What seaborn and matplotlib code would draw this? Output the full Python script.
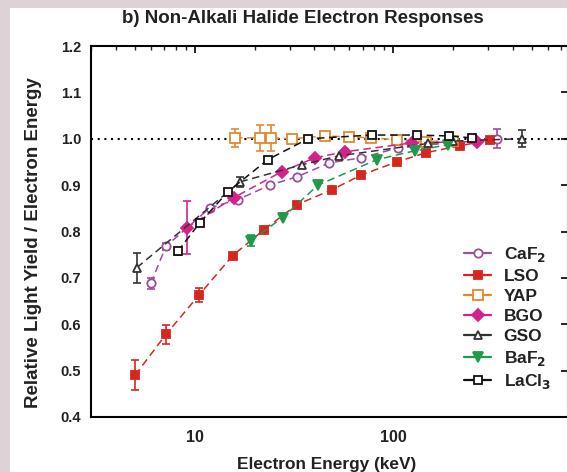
import numpy as np
import pandas as pd
import seaborn as sns
import matplotlib
matplotlib.use("Agg")
import matplotlib.pyplot as plt
from matplotlib.lines import Line2D
from matplotlib.patches import Rectangle
from matplotlib.ticker import FixedLocator, LogLocator, NullFormatter, FuncFormatter

# ---------------- data ----------------
series_names = ["CaF$_\\mathbf{2}$", "LSO", "YAP", "BGO", "GSO", "BaF$_\\mathbf{2}$", "LaCl$_\\mathbf{3}$"]

caf2_e = [6.0, 7.15, 11.9, 16.5, 23.9, 32.7, 47.6, 69, 105, 200, 331]
caf2_y = [0.688, 0.768, 0.851, 0.869, 0.900, 0.918, 0.948, 0.959, 0.980, 0.992, 1.000]
caf2_err = [0.012, 0.008, 0.0, 0.0, 0.0, 0.0, 0.0, 0.0, 0.0, 0.0, 0.02]

lso_e = [5.0, 7.15, 10.5, 15.5, 22.3, 32.7, 49, 69, 104, 146, 216, 306]
lso_y = [0.490, 0.578, 0.663, 0.748, 0.804, 0.858, 0.890, 0.922, 0.950, 0.970, 0.985, 0.997]
lso_err = [0.032, 0.02, 0.015, 0.0, 0.0, 0.0, 0.0, 0.0, 0.0, 0.0, 0.0, 0.0]

yap_e = [15.9, 21.2, 24.1, 30.8, 45.2, 59.7, 77, 104, 146, 200]
yap_y = [1.002, 1.002, 1.002, 1.000, 1.006, 1.004, 1.002, 0.998, 0.994, 0.996]
yap_err = [0.02, 0.028, 0.028, 0.0, 0.0, 0.0, 0.0, 0.0, 0.0, 0.0]

bgo_e = [9.1, 15.7, 27.4, 40.3, 57, 124, 263]
bgo_y = [0.808, 0.873, 0.929, 0.959, 0.972, 0.991, 0.994]
bgo_err = [0.057, 0.0, 0.0, 0.0, 0.0, 0.0, 0.0]

gso_e = [5.1, 16.9, 34.6, 53, 150, 200, 444]
gso_y = [0.722, 0.907, 0.944, 0.963, 0.990, 0.995, 1.000]
gso_err = [0.032, 0.01, 0.0, 0.0, 0.0, 0.0, 0.018]

baf2_e = [19.1, 27.7, 41.7, 82.6, 128, 188]
baf2_y = [0.780, 0.830, 0.900, 0.955, 0.974, 0.987]
baf2_err = [0.012, 0.0, 0.0, 0.0, 0.0, 0.0]

lacl3_e = [8.2, 10.6, 14.7, 23.3, 37.2, 77.6, 132, 190, 248]
lacl3_y = [0.757, 0.819, 0.886, 0.955, 1.000, 1.008, 1.008, 1.006, 1.002]
lacl3_err = [0.008, 0.0, 0.0, 0.0, 0.0, 0.0, 0.0, 0.0, 0.0]

y_ticks = [0.4, 0.5, 0.6, 0.7, 0.8, 0.9, 1.0, 1.1, 1.2]
x_ticks = [10, 100]

# ---------------- styling ----------------
sns.set_theme(style="white")
plt.rcParams["font.family"] = ["Liberation Sans", "DejaVu Sans"]
plt.rcParams["font.weight"] = "bold"
plt.rcParams["mathtext.default"] = "bf"

W, H = 567, 472
BORDER = "#ddd2d5"
TXT = "#222222"
fig = plt.figure(figsize=(W / 100, H / 100), dpi=100)
fig.patch.set_facecolor("white")

ax = fig.add_axes([91 / W, 55 / H, (568 - 91) / W, (417 - 46) / H])
ax.set_facecolor("white")

specs = [
    (caf2_e, caf2_y, caf2_err, "#9c4d9e", "o", "white", 6),
    (lso_e, lso_y, lso_err, "#d7261e", "s", None, 6),
    (yap_e, yap_y, yap_err, "#e4882c", "s", "white", 6.5),
    (bgo_e, bgo_y, bgo_err, "#d4228a", "D", None, 6),
    (gso_e, gso_y, gso_err, "#333333", "^", "white", 6),
    (baf2_e, baf2_y, baf2_err, "#1f9a4a", "v", None, 7),
    (lacl3_e, lacl3_y, lacl3_err, "#111111", "s", "white", 5.5),
]

# reference line at 1.0
ax.axhline(1.0, color="black", linestyle=(0, (1, 2.2)), linewidth=1.5, zorder=1)

handles = []
for (e, y, err, col, mk, mfc, ms), name in zip(specs, series_names):
    df = pd.DataFrame({"E": e, "Y": y})
    err = np.array(err)
    mask = err > 0
    if mask.any():
        ax.errorbar(np.array(e)[mask], np.array(y)[mask], yerr=err[mask], fmt="none",
                    ecolor=col, elinewidth=1.2, capsize=3, capthick=1.2, zorder=2)
    sns.lineplot(data=df, x="E", y="Y", ax=ax, color=col, linestyle=(0, (5, 3)),
                 linewidth=1.1, marker=mk, markersize=ms,
                 markerfacecolor=(mfc if mfc else col), markeredgecolor=col,
                 markeredgewidth=1.3, sort=False, estimator=None, zorder=3)
    handles.append(Line2D([], [], color=col, linewidth=1.6, marker=mk, markersize=ms,
                          markerfacecolor=(mfc if mfc else col), markeredgecolor=col,
                          markeredgewidth=1.3, label=name))

ax.set_xscale("log")
ax.set_xlim(3, 757)
ax.set_ylim(0.4, 1.2)

ax.xaxis.set_major_locator(FixedLocator(x_ticks))
ax.xaxis.set_major_formatter(FuncFormatter(lambda v, p: f"{int(v)}"))
ax.xaxis.set_minor_locator(LogLocator(base=10, subs=np.arange(2, 10)))
ax.xaxis.set_minor_formatter(NullFormatter())
ax.yaxis.set_major_locator(FixedLocator(y_ticks))
ax.yaxis.set_major_formatter(FuncFormatter(lambda v, p: f"{v:.1f}"))

ax.tick_params(axis="both", which="major", direction="in", length=5, width=1.2,
               top=True, right=True, colors="black")
ax.tick_params(axis="x", which="major", labelsize=11.5, pad=9)
ax.tick_params(axis="y", which="major", labelsize=10.5, pad=7)
ax.tick_params(axis="both", which="minor", direction="in", length=3, width=1.0,
               top=True, right=True)
for lab in ax.get_xticklabels() + ax.get_yticklabels():
    lab.set_fontweight("bold")
    lab.set_color(TXT)

for s in ax.spines.values():
    s.set_color("black")
    s.set_linewidth(1.5)
    s.set_visible(True)

ax.set_xlabel("")
ax.set_ylabel("")
fig.text(327 / W, (H - 465) / H, "Electron Energy (keV)", ha="center", va="center",
         fontsize=12.4, fontweight="bold", color=TXT)
fig.text(34 / W, (H - 243) / H, "Relative Light Yield / Electron Energy", ha="center",
         va="center", rotation=90, fontsize=13.5, fontweight="bold", color=TXT)
fig.text(303 / W, (H - 23) / H, "b) Non-Alkali Halide Electron Responses", ha="center",
         va="baseline", fontsize=13.5, fontweight="bold", color=TXT, zorder=3)
# border bands (image is cropped there)
fig.patches.append(Rectangle((0, (H - 8) / H), 1, 8 / H, transform=fig.transFigure,
                             facecolor=BORDER, edgecolor="none", zorder=10))
fig.patches.append(Rectangle((0, 0), 10 / W, 1, transform=fig.transFigure,
                             facecolor=BORDER, edgecolor="none", zorder=10))

leg = ax.legend(handles=handles, loc="upper left",
                bbox_to_anchor=((455 - 91) / (568 - 91), (417 - 236) / (417 - 46)),
                frameon=False, handlelength=1.6, handletextpad=0.7,
                labelspacing=0.28, borderpad=0, prop={"weight": "bold", "size": 12.5})
for t in leg.get_texts():
    t.set_color(TXT)

fig.savefig("out.png", dpi=100, facecolor=fig.get_facecolor())
